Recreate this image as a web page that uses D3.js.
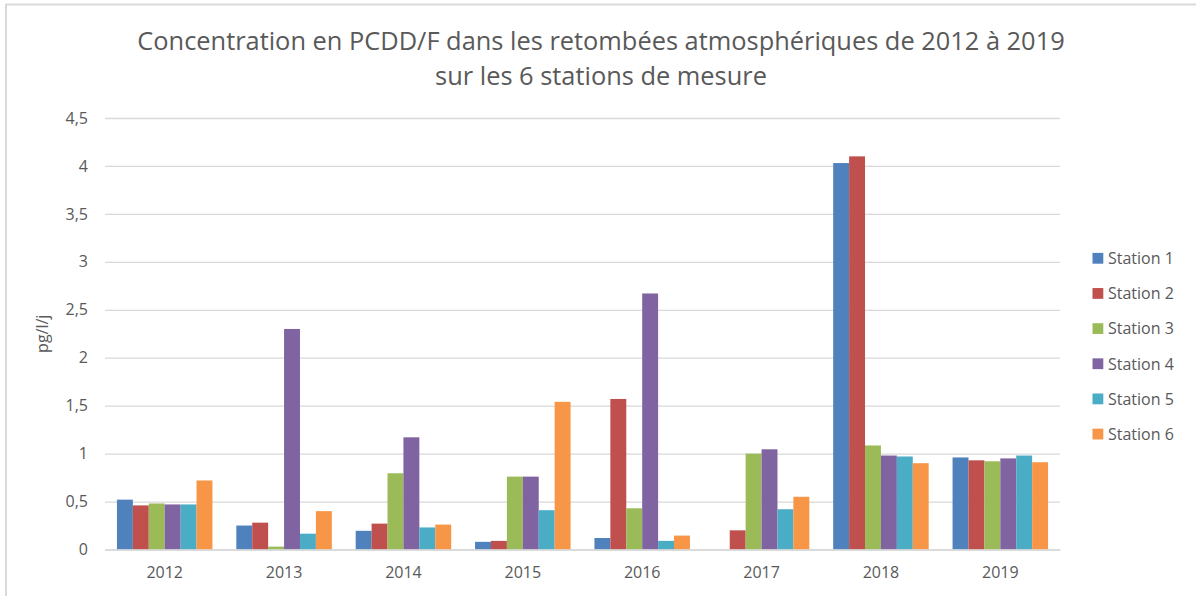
<!DOCTYPE html>
<html><head><meta charset="utf-8">
<script src="https://cdn.jsdelivr.net/npm/d3@7"></script>
<style>body{margin:0;background:#fff}svg{display:block}text{font-family:"Open Sans",sans-serif}</style>
</head><body>
<svg id="c" width="1196" height="596"></svg>
<script>
const years = ["2012","2013","2014","2015","2016","2017","2018","2019"];
const seriesNames = ["Station 1","Station 2","Station 3","Station 4","Station 5","Station 6"];
const colors = ["#4F81BD","#C0504D","#9BBB59","#8064A2","#4BACC6","#F79646"];
const station1 = [0.52,0.25,0.195,0.08,0.12,0,4.03,0.96];
const station2 = [0.46,0.28,0.27,0.09,1.57,0.2,4.10,0.93];
const station3 = [0.48,0.03,0.795,0.76,0.43,1.0,1.085,0.92];
const station4 = [0.47,2.30,1.17,0.76,2.67,1.045,0.98,0.95];
const station5 = [0.47,0.165,0.23,0.41,0.09,0.42,0.97,0.98];
const station6 = [0.72,0.40,0.26,1.54,0.145,0.55,0.90,0.91];
const yTicks = [0,0.5,1,1.5,2,2.5,3,3.5,4,4.5];
const titleLines = ["Concentration en PCDD/F dans les retombées atmosphériques de 2012 à 2019","sur les 6 stations de mesure"];
const yTitle = "pg/l/j";

const values = [station1,station2,station3,station4,station5,station6];
const svg = d3.select("#c");
const txt = "#595959", grid = "#d9d9d9";

svg.append("rect").attr("x",6).attr("y",4.5).attr("width",1300).attr("height",700)
  .attr("fill","none").attr("stroke",grid).attr("stroke-width",2);

const x0 = d3.scaleBand().domain(years).range([105,1060]).padding(0);
const x1 = d3.scaleBand().domain(seriesNames).range([0,x0.bandwidth()]).paddingInner(0).paddingOuter(0.75);
const y = d3.scaleLinear().domain([0,4.5]).range([549.5,118]);

// gridlines
const yAxis = d3.axisLeft(y).tickValues(yTicks).tickSize(-(1060-105)).tickPadding(17)
  .tickFormat(d => String(d).replace(".",","));
const gy = svg.append("g").attr("transform","translate(105,0)").call(yAxis);
gy.select(".domain").remove();
gy.selectAll(".tick line").attr("stroke",grid).attr("stroke-width",1.3);
gy.selectAll(".tick text").attr("fill",txt).attr("font-size",16);

// bars
const groups = svg.append("g").selectAll("g").data(years).join("g")
  .attr("transform", d => `translate(${x0(d)},0)`);
groups.selectAll("rect").data((d,i) => seriesNames.map((s,j)=>({s, v: values[j][i], c: colors[j]})))
  .join("rect")
  .attr("x", d => x1(d.s)).attr("width", x1.bandwidth())
  .attr("y", d => y(d.v)).attr("height", d => y(0)-y(d.v))
  .attr("fill", d => d.c);

// x axis
const xAxis = d3.axisBottom(x0).tickSize(0).tickPadding(17);
const gx = svg.append("g").attr("transform",`translate(0,${y(0)})`).call(xAxis);
gx.select(".domain").attr("stroke",grid).attr("stroke-width",1.3);
gx.selectAll(".tick text").attr("fill",txt).attr("font-size",16);

// y title
svg.append("text").attr("transform",`translate(48,${(y(0)+y(4.5))/2}) rotate(-90)`)
  .attr("text-anchor","middle").attr("fill",txt).attr("font-size",16).text(yTitle);

// title
const t1 = svg.append("text").attr("x",601).attr("y",50).attr("text-anchor","middle")
  .attr("fill",txt).attr("font-size",25).text(titleLines[0]);
const w = t1.node().getComputedTextLength();
const fs = 25*928/w;
t1.attr("font-size",fs);
svg.append("text").attr("x",601).attr("y",85).attr("text-anchor","middle")
  .attr("fill",txt).attr("font-size",fs).text(titleLines[1]);

// legend
const lg = svg.append("g").selectAll("g").data(seriesNames).join("g")
  .attr("transform",(d,i)=>`translate(1092.5,${258.3+35.15*i})`);
lg.append("rect").attr("x",0).attr("y",-5.4).attr("width",10.8).attr("height",10.8).attr("fill",(d,i)=>colors[i]);
lg.append("text").attr("x",15.5).attr("y",0).attr("dy","0.36em").attr("fill",txt).attr("font-size",16).text(d=>d);
</script>
</body></html>
